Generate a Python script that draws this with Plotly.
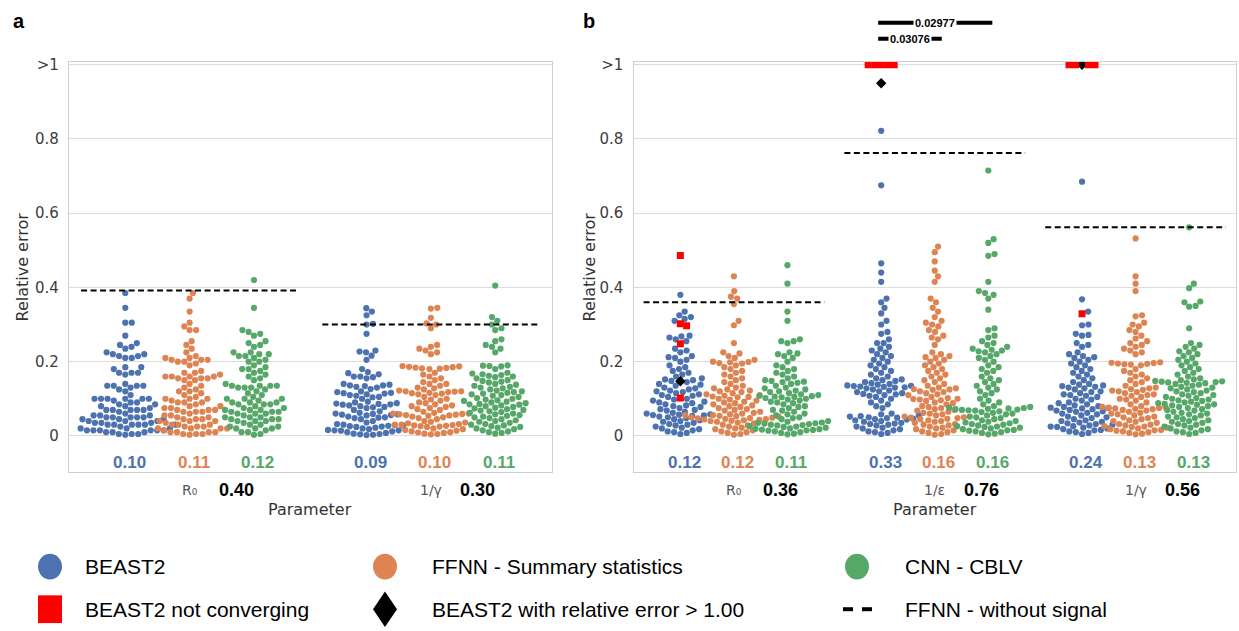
import numpy as np
import plotly.graph_objects as go

W, H = 1239, 631
BLUE, ORANGE, GREEN = '#4C72B0', '#DD8452', '#55A868'
HUE_COLORS = [BLUE, ORANGE, GREEN]
methods = ['BEAST2', 'FFNN - Summary statistics', 'CNN - CBLV']

# ---------------- panel a data ----------------
a_params = ['R₀', '1/γ']
a_r0_beast = [0.385, 0.345, 0.305, 0.305, 0.27, 0.25, 0.245, 0.24, 0.235,
              0.225, 0.22, 0.22, 0.215, 0.215, 0.21, 0.21,
              0.185, 0.185, 0.18, 0.17, 0.17, 0.17, 0.165,
              0.14, 0.135, 0.135, 0.135, 0.135, 0.13, 0.125, 0.12,
              0.11, 0.10, 0.10, 0.10, 0.10, 0.10, 0.10, 0.095, 0.09, 0.09,
              0.085, 0.085, 0.08, 0.08, 0.075, 0.07, 0.07, 0.07, 0.07, 0.07, 0.065,
              0.06, 0.055, 0.055, 0.055, 0.05, 0.05, 0.05, 0.05, 0.05, 0.045, 0.045, 0.045,
              0.04, 0.04, 0.04, 0.035, 0.035, 0.035, 0.03, 0.03, 0.03, 0.03, 0.03, 0.03, 0.025,
              0.02, 0.02, 0.02, 0.015, 0.015, 0.015, 0.015, 0.015, 0.015, 0.01, 0.01, 0.01,
              0.005, 0.005, 0.005, 0.003]
a_r0_ffnn = [0.385, 0.37, 0.335, 0.305, 0.295, 0.285, 0.285, 0.255, 0.245, 0.235, 0.225, 0.215,
             0.21, 0.21, 0.205, 0.205, 0.205, 0.2, 0.2, 0.195, 0.19,
             0.175, 0.17, 0.17, 0.165,
             0.16, 0.16, 0.16, 0.16, 0.155, 0.155, 0.155, 0.15, 0.15,
             0.14, 0.135, 0.13, 0.125, 0.12, 0.12, 0.115,
             0.11, 0.105, 0.10, 0.10, 0.10, 0.095, 0.09, 0.09, 0.09, 0.085,
             0.08, 0.08, 0.075, 0.075, 0.07, 0.07, 0.07, 0.065, 0.065, 0.065, 0.06,
             0.055, 0.055, 0.05, 0.05, 0.045, 0.045, 0.045, 0.04, 0.04, 0.04,
             0.035, 0.03, 0.03, 0.03, 0.025, 0.025, 0.025, 0.02, 0.02, 0.02, 0.02,
             0.015, 0.01, 0.01, 0.01, 0.01, 0.005, 0.005, 0.005, 0.003]
a_r0_cnn = [0.42, 0.345, 0.285, 0.28, 0.275, 0.27, 0.255, 0.25, 0.245, 0.24,
            0.225, 0.225, 0.22, 0.22, 0.215, 0.215, 0.21, 0.205, 0.2, 0.2,
            0.19, 0.185, 0.18, 0.18, 0.175, 0.17, 0.165, 0.16,
            0.155, 0.15, 0.14, 0.135, 0.135, 0.135, 0.135, 0.13, 0.13, 0.13, 0.125, 0.12, 0.115,
            0.11, 0.105, 0.1, 0.1, 0.1, 0.095, 0.09, 0.09, 0.09, 0.085, 0.085, 0.085,
            0.08, 0.075, 0.075, 0.07, 0.07, 0.07, 0.065, 0.065, 0.065, 0.06, 0.06, 0.06,
            0.055, 0.05, 0.05, 0.05, 0.045, 0.045, 0.045, 0.04, 0.04, 0.04,
            0.035, 0.03, 0.03, 0.025, 0.025, 0.02, 0.02, 0.02, 0.015, 0.01, 0.01, 0.005, 0.003]
a_gamma_beast = [0.344, 0.335, 0.325, 0.302, 0.30, 0.275, 0.23, 0.227, 0.225, 0.216, 0.205,
                 0.18, 0.172, 0.169, 0.166, 0.16, 0.16, 0.158, 0.155, 0.14, 0.138, 0.136,
                 0.136, 0.134, 0.132, 0.13, 0.126, 0.12, 0.118, 0.116, 0.115, 0.114, 0.112,
                 0.11, 0.108, 0.105, 0.104, 0.10, 0.092, 0.09, 0.088, 0.087, 0.086, 0.085,
                 0.084, 0.082, 0.08, 0.078, 0.077, 0.075, 0.07, 0.066, 0.062, 0.06, 0.059,
                 0.058, 0.057, 0.056, 0.055, 0.052, 0.05, 0.049, 0.048, 0.045, 0.04, 0.036,
                 0.032, 0.03, 0.029, 0.028, 0.027, 0.026, 0.025, 0.024, 0.022, 0.02, 0.018,
                 0.016, 0.015, 0.015, 0.014, 0.012, 0.01, 0.008, 0.006, 0.005, 0.004, 0.003, 0.002]
a_gamma_ffnn = [0.345, 0.343, 0.318, 0.303, 0.30, 0.29, 0.245, 0.24, 0.235, 0.23, 0.225, 0.22,
                0.188, 0.187, 0.186, 0.185, 0.184, 0.183, 0.182, 0.181, 0.18, 0.17, 0.165,
                0.16, 0.155, 0.15, 0.145, 0.14, 0.14, 0.135, 0.13, 0.128, 0.125, 0.122, 0.12,
                0.12, 0.119, 0.118, 0.116, 0.115, 0.114, 0.112, 0.11, 0.105, 0.10, 0.098,
                0.095, 0.09, 0.088, 0.085, 0.082, 0.08, 0.078, 0.075, 0.072, 0.07, 0.065,
                0.062, 0.06, 0.06, 0.059, 0.058, 0.057, 0.056, 0.055, 0.054, 0.052, 0.05,
                0.048, 0.045, 0.04, 0.038, 0.036, 0.034, 0.032, 0.03, 0.03, 0.029, 0.028,
                0.027, 0.026, 0.025, 0.024, 0.02, 0.018, 0.016, 0.014, 0.012, 0.01, 0.009,
                0.008, 0.006, 0.005, 0.004]
a_gamma_cnn = [0.405, 0.32, 0.31, 0.30, 0.29, 0.285, 0.26, 0.255, 0.245, 0.24, 0.235, 0.225,
               0.19, 0.189, 0.188, 0.187, 0.18, 0.17, 0.168, 0.166, 0.164, 0.162, 0.16, 0.158,
               0.155, 0.15, 0.148, 0.146, 0.144, 0.14, 0.138, 0.135, 0.132, 0.13, 0.128, 0.125,
               0.122, 0.12, 0.118, 0.116, 0.114, 0.112, 0.11, 0.108, 0.105, 0.102, 0.10, 0.098,
               0.096, 0.094, 0.092, 0.09, 0.088, 0.086, 0.085, 0.084, 0.082, 0.08, 0.078,
               0.076, 0.074, 0.072, 0.07, 0.068, 0.066, 0.064, 0.062, 0.06, 0.058, 0.056,
               0.054, 0.052, 0.05, 0.048, 0.045, 0.042, 0.04, 0.038, 0.035, 0.032, 0.03,
               0.028, 0.026, 0.024, 0.022, 0.02, 0.018, 0.015, 0.012, 0.01, 0.008, 0.006]
a_means = [['0.10', '0.11', '0.12'], ['0.09', '0.10', '0.11']]
a_nosignal = [0.392, 0.300]
a_nosignal_text = ['0.40', '0.30']

# ---------------- panel b data ----------------
b_params = ['R₀', '1/ε', '1/γ']
b_r0_beast = [0.38, 0.335, 0.325, 0.32, 0.315, 0.31, 0.27, 0.268, 0.265, 0.26, 0.255, 0.235,
              0.23, 0.225, 0.215, 0.212, 0.21, 0.205, 0.2, 0.19, 0.185, 0.18, 0.175, 0.17,
              0.165, 0.16, 0.155, 0.152, 0.15, 0.148, 0.145, 0.14, 0.138, 0.135, 0.13, 0.128,
              0.125, 0.122, 0.12, 0.118, 0.115, 0.112, 0.11, 0.108, 0.105, 0.1, 0.098, 0.095,
              0.092, 0.09, 0.088, 0.085, 0.082, 0.08, 0.078, 0.075, 0.072, 0.07, 0.068, 0.065,
              0.062, 0.06, 0.058, 0.057, 0.056, 0.055, 0.054, 0.052, 0.05, 0.048, 0.045,
              0.042, 0.04, 0.038, 0.035, 0.032, 0.03, 0.028, 0.025, 0.022, 0.02, 0.018,
              0.015, 0.012, 0.01, 0.008, 0.005]
b_r0_red = [0.486, 0.302, 0.297, 0.248, 0.102]
b_r0_black = [0.147]
b_r0_ffnn = [0.43, 0.39, 0.375, 0.37, 0.355, 0.31, 0.298, 0.25, 0.225, 0.222, 0.215, 0.21,
             0.205, 0.2, 0.199, 0.198, 0.196, 0.195, 0.19, 0.185, 0.18, 0.175, 0.17, 0.165,
             0.16, 0.155, 0.15, 0.145, 0.14, 0.135, 0.13, 0.128, 0.125, 0.122, 0.12, 0.118,
             0.115, 0.112, 0.11, 0.108, 0.106, 0.105, 0.104, 0.1, 0.098, 0.095, 0.092, 0.09,
             0.088, 0.085, 0.082, 0.08, 0.078, 0.075, 0.072, 0.07, 0.068, 0.065, 0.062, 0.06,
             0.058, 0.056, 0.055, 0.054, 0.053, 0.052, 0.05, 0.049, 0.048, 0.047, 0.046,
             0.045, 0.044, 0.043, 0.042, 0.041, 0.04, 0.038, 0.036, 0.034, 0.03, 0.028,
             0.025, 0.022, 0.02, 0.018, 0.015, 0.012, 0.01, 0.008, 0.005, 0.003]
b_r0_cnn = [0.46, 0.41, 0.335, 0.31, 0.26, 0.255, 0.255, 0.25, 0.225, 0.222, 0.22, 0.215,
            0.21, 0.2, 0.19, 0.185, 0.18, 0.175, 0.17, 0.165, 0.16, 0.155, 0.15, 0.148,
            0.146, 0.145, 0.143, 0.14, 0.135, 0.13, 0.128, 0.125, 0.122, 0.12, 0.118, 0.115,
            0.112, 0.11, 0.108, 0.107, 0.106, 0.105, 0.104, 0.102, 0.1, 0.098, 0.095, 0.092,
            0.09, 0.088, 0.085, 0.08, 0.078, 0.075, 0.07, 0.068, 0.065, 0.06, 0.058, 0.055,
            0.05, 0.048, 0.045, 0.04, 0.038, 0.036, 0.035, 0.034, 0.033, 0.032, 0.03, 0.029,
            0.028, 0.026, 0.025, 0.024, 0.022, 0.02, 0.019, 0.018, 0.017, 0.016, 0.015,
            0.014, 0.012, 0.01, 0.008, 0.006, 0.004]
b_eps_beast = [0.822, 0.675, 0.465, 0.44, 0.415, 0.37, 0.36, 0.345, 0.33, 0.31, 0.3, 0.28,
               0.275, 0.26, 0.25, 0.25, 0.24, 0.235, 0.23, 0.225, 0.22, 0.215, 0.21, 0.205,
               0.2, 0.195, 0.19, 0.185, 0.18, 0.175, 0.17, 0.165, 0.16, 0.155, 0.152, 0.15,
               0.148, 0.145, 0.142, 0.14, 0.138, 0.136, 0.135, 0.134, 0.133, 0.132, 0.131,
               0.13, 0.128, 0.125, 0.122, 0.12, 0.118, 0.115, 0.113, 0.112, 0.11, 0.108,
               0.105, 0.1, 0.095, 0.09, 0.085, 0.08, 0.075, 0.06, 0.058, 0.055, 0.053,
               0.052, 0.05, 0.049, 0.048, 0.046, 0.045, 0.044, 0.042, 0.04, 0.038, 0.035,
               0.033, 0.032, 0.03, 0.028, 0.025, 0.022, 0.02, 0.018, 0.015, 0.012, 0.01,
               0.008, 0.005]
b_eps_red = [1.0, 1.0, 1.0, 1.0, 1.0]
b_eps_black = [0.95]
b_eps_ffnn = [0.51, 0.495, 0.47, 0.445, 0.43, 0.415, 0.37, 0.36, 0.345, 0.335, 0.32, 0.31,
              0.305, 0.3, 0.295, 0.285, 0.28, 0.27, 0.265, 0.26, 0.245, 0.225, 0.22, 0.215,
              0.212, 0.21, 0.205, 0.2, 0.195, 0.19, 0.185, 0.18, 0.175, 0.17, 0.165, 0.16,
              0.155, 0.15, 0.145, 0.14, 0.135, 0.13, 0.128, 0.126, 0.125, 0.124, 0.12,
              0.118, 0.115, 0.112, 0.11, 0.105, 0.102, 0.1, 0.099, 0.098, 0.096, 0.094,
              0.09, 0.088, 0.085, 0.08, 0.078, 0.075, 0.072, 0.07, 0.068, 0.065, 0.062,
              0.06, 0.058, 0.055, 0.052, 0.05, 0.049, 0.048, 0.046, 0.045, 0.042, 0.04,
              0.038, 0.035, 0.032, 0.03, 0.028, 0.025, 0.022, 0.02, 0.018, 0.015, 0.012,
              0.01, 0.008, 0.005, 0.003]
b_eps_cnn = [0.715, 0.53, 0.52, 0.49, 0.485, 0.415, 0.39, 0.385, 0.38, 0.37, 0.34, 0.29,
             0.285, 0.27, 0.265, 0.255, 0.25, 0.245, 0.24, 0.235, 0.232, 0.23, 0.228, 0.225,
             0.22, 0.215, 0.21, 0.205, 0.2, 0.19, 0.185, 0.18, 0.175, 0.17, 0.16, 0.155,
             0.15, 0.145, 0.14, 0.135, 0.13, 0.125, 0.12, 0.115, 0.11, 0.1, 0.095, 0.09,
             0.085, 0.08, 0.078, 0.076, 0.075, 0.074, 0.073, 0.072, 0.071, 0.07, 0.069,
             0.068, 0.066, 0.064, 0.062, 0.06, 0.058, 0.055, 0.052, 0.05, 0.048, 0.045,
             0.042, 0.04, 0.038, 0.036, 0.034, 0.032, 0.03, 0.028, 0.026, 0.025, 0.024,
             0.022, 0.02, 0.018, 0.016, 0.015, 0.014, 0.012, 0.01, 0.008, 0.006, 0.004]
b_gamma_beast = [0.685, 0.368, 0.335, 0.30, 0.298, 0.275, 0.272, 0.27, 0.25, 0.245, 0.24,
                 0.225, 0.22, 0.215, 0.212, 0.21, 0.205, 0.2, 0.195, 0.19, 0.185, 0.18,
                 0.175, 0.17, 0.165, 0.16, 0.155, 0.15, 0.145, 0.14, 0.138, 0.136, 0.134,
                 0.132, 0.13, 0.128, 0.125, 0.12, 0.118, 0.115, 0.112, 0.11, 0.108, 0.105,
                 0.1, 0.098, 0.095, 0.09, 0.088, 0.085, 0.082, 0.08, 0.078, 0.076, 0.075,
                 0.074, 0.072, 0.07, 0.068, 0.066, 0.065, 0.062, 0.06, 0.058, 0.055, 0.052,
                 0.05, 0.048, 0.045, 0.042, 0.04, 0.038, 0.036, 0.034, 0.032, 0.03, 0.028,
                 0.026, 0.025, 0.024, 0.022, 0.02, 0.018, 0.016, 0.015, 0.012, 0.01, 0.008, 0.005]
b_gamma_red = [0.329, 1.0, 1.0, 1.0, 1.0]
b_gamma_black = [1.0]
b_gamma_ffnn = [0.532, 0.43, 0.41, 0.39, 0.325, 0.322, 0.305, 0.3, 0.295, 0.285, 0.28, 0.27,
                0.262, 0.255, 0.25, 0.245, 0.24, 0.235, 0.23, 0.225, 0.22, 0.198, 0.197,
                0.196, 0.195, 0.194, 0.193, 0.192, 0.19, 0.18, 0.175, 0.17, 0.165, 0.16,
                0.155, 0.15, 0.145, 0.14, 0.135, 0.13, 0.128, 0.126, 0.124, 0.122, 0.12,
                0.118, 0.115, 0.112, 0.11, 0.108, 0.105, 0.1, 0.098, 0.095, 0.09, 0.085,
                0.08, 0.078, 0.077, 0.076, 0.075, 0.074, 0.073, 0.072, 0.07, 0.068, 0.065,
                0.062, 0.06, 0.058, 0.055, 0.052, 0.05, 0.048, 0.045, 0.042, 0.04, 0.038,
                0.035, 0.032, 0.03, 0.028, 0.026, 0.025, 0.024, 0.022, 0.02, 0.018, 0.016,
                0.015, 0.014, 0.012, 0.01, 0.008, 0.006, 0.004]
b_gamma_cnn = [0.562, 0.41, 0.398, 0.362, 0.36, 0.35, 0.348, 0.29, 0.25, 0.245, 0.24, 0.235,
               0.228, 0.225, 0.22, 0.215, 0.21, 0.205, 0.2, 0.195, 0.19, 0.185, 0.18, 0.175,
               0.17, 0.165, 0.16, 0.155, 0.152, 0.15, 0.148, 0.147, 0.146, 0.145, 0.144,
               0.143, 0.142, 0.14, 0.138, 0.135, 0.132, 0.13, 0.128, 0.125, 0.122, 0.12,
               0.118, 0.115, 0.112, 0.11, 0.108, 0.105, 0.102, 0.1, 0.098, 0.096, 0.094,
               0.092, 0.09, 0.088, 0.086, 0.085, 0.084, 0.082, 0.08, 0.078, 0.075, 0.072,
               0.07, 0.068, 0.065, 0.062, 0.06, 0.058, 0.055, 0.052, 0.05, 0.048, 0.045,
               0.042, 0.04, 0.038, 0.035, 0.032, 0.03, 0.028, 0.025, 0.022, 0.02, 0.018,
               0.015, 0.012, 0.01, 0.008, 0.005]
b_means = [['0.12', '0.12', '0.11'], ['0.33', '0.16', '0.16'], ['0.24', '0.13', '0.13']]
b_nosignal = [0.36, 0.762, 0.562]
b_nosignal_text = ['0.36', '0.76', '0.56']
b_pvalues = ['0.02977', '0.03076']

# ---------------- layout geometry ----------------
Y_RANGE = [-0.098, 1.0075]
Y_DOM = [1 - 470.7 / H, 1 - 56.5 / H]
XA_DOM = [69 / W, 551.5 / W]
XB_DOM = [633.5 / W, 1236 / W]
XA_RANGE = [-0.5, 1.5]
XB_RANGE = [-0.5, 2.5]
HUE_OFF = [-0.8 / 3, 0.0, 0.8 / 3]
PX_Y = (Y_DOM[1] - Y_DOM[0]) * H / (Y_RANGE[1] - Y_RANGE[0])
PX_XA = (XA_DOM[1] - XA_DOM[0]) * W / (XA_RANGE[1] - XA_RANGE[0])
PX_XB = (XB_DOM[1] - XB_DOM[0]) * W / (XB_RANGE[1] - XB_RANGE[0])
D = 6.5  # swarm spacing in px


def swarm(vals, n_priority=0):
    """Beeswarm offsets (px). The last n_priority values are placed first (centred)."""
    ypx = np.asarray(vals, float) * PX_Y
    n = len(ypx)
    pri = list(range(n - n_priority, n))
    rest = [i for i in np.argsort(ypx, kind='stable') if i < n - n_priority]
    xs = np.zeros(n)
    placed = []
    for i in pri + rest:
        y = ypx[i]
        near = [(px, py) for px, py in placed if abs(py - y) < D]
        cands = [0.0]
        for px, py in near:
            dx = np.sqrt(D * D - (py - y) ** 2)
            cands += [px + dx, px - dx]
        cands.sort(key=abs)
        for c in cands:
            if all((c - px) ** 2 + (y - py) ** 2 >= D * D - 1e-6 for px, py in near):
                xs[i] = c
                break
        placed.append((xs[i], y))
    return xs


fig = go.Figure()

panels = [
    dict(xa='x', ya='y', pxu=PX_XA, params=a_params, nosig=a_nosignal, nosig_t=a_nosignal_text,
         means=a_means,
         series=[[a_r0_beast, a_r0_ffnn, a_r0_cnn], [a_gamma_beast, a_gamma_ffnn, a_gamma_cnn]],
         red=[[], []], black=[[], []]),
    dict(xa='x2', ya='y2', pxu=PX_XB, params=b_params, nosig=b_nosignal, nosig_t=b_nosignal_text,
         means=b_means,
         series=[[b_r0_beast, b_r0_ffnn, b_r0_cnn], [b_eps_beast, b_eps_ffnn, b_eps_cnn],
                 [b_gamma_beast, b_gamma_ffnn, b_gamma_cnn]],
         red=[b_r0_red, b_eps_red, b_gamma_red], black=[b_r0_black, b_eps_black, b_gamma_black]),
]

annotations = []
shapes = []

for P in panels:
    for g, trio in enumerate(P['series']):
        for h, vals in enumerate(trio):
            extra_k = list(P['black'][g]) if h == 0 else []
            extra_r = list(P['red'][g]) if h == 0 else []
            allv = list(vals) + extra_k + extra_r
            xo = swarm(allv, len(extra_k) + len(extra_r))
            xs = g + HUE_OFF[h] + xo / P['pxu']
            n0, n1 = len(vals), len(vals) + len(extra_k)
            fig.add_trace(go.Scatter(x=xs[:n0], y=vals, mode='markers', xaxis=P['xa'], yaxis=P['ya'],
                                     marker=dict(size=6.2, color=HUE_COLORS[h], line=dict(width=0)),
                                     showlegend=False, hoverinfo='y'))
            if extra_k:
                fig.add_trace(go.Scatter(x=xs[n0:n1], y=extra_k, mode='markers', xaxis=P['xa'], yaxis=P['ya'],
                                         marker=dict(size=8, color='black', symbol='diamond'),
                                         showlegend=False, hoverinfo='y'))
            if extra_r:
                fig.add_trace(go.Scatter(x=xs[n1:], y=extra_r, mode='markers', xaxis=P['xa'], yaxis=P['ya'],
                                         marker=dict(size=7, color='#FF0000', symbol='square'),
                                         showlegend=False, hoverinfo='y'))
            annotations.append(dict(x=g + HUE_OFF[h], y=-0.072, xref=P['xa'], yref=P['ya'],
                                    text='<b>%s</b>' % P['means'][g][h], showarrow=False, xshift=4,
                                    yanchor='middle',
                                    font=dict(family='Liberation Sans', size=17, color=HUE_COLORS[h])))
        # no-signal dashed line
        fig.add_trace(go.Scatter(x=[g - 0.45, g + 0.45], y=[P['nosig'][g]] * 2, mode='lines',
                                 xaxis=P['xa'], yaxis=P['ya'], showlegend=False, hoverinfo='skip',
                                 line=dict(color='black', width=2, dash='6px,3.5px')))
        # category label and bold no-signal value
        annotations.append(dict(x=g, y=1 - 489 / H, xref=P['xa'], yref='paper', text=P['params'][g],
                                showarrow=False, yanchor='middle',
                                font=dict(family='DejaVu Sans', size=14, color='#555')))
        annotations.append(dict(x=g, y=1 - 489 / H, xref=P['xa'], yref='paper', xshift=47,
                                text='<b>%s</b>' % P['nosig_t'][g], showarrow=False, yanchor='middle',
                                font=dict(family='Liberation Sans', size=18, color='black')))


def px(x):
    return x / W


def py(y):
    return 1 - y / H


def text(x, y, t, size, color='black', family='Liberation Sans', xanchor='left', angle=0):
    annotations.append(dict(x=px(x), y=py(y), xref='paper', yref='paper', text=t, showarrow=False,
                            xanchor=xanchor, yanchor='middle', textangle=angle,
                            font=dict(family=family, size=size, color=color)))


# axis titles and panel letters
for cx, yx in [(310, 22), (935, 589)]:
    text(cx, 508, 'Parameter', 16, '#333', 'DejaVu Sans', 'center')
    text(yx, 264, 'Relative error', 16, '#333', 'DejaVu Sans', 'center', -90)
text(11, 15, '<b>a</b>', 20)
text(581, 15, '<b>b</b>', 20)

# significance bars (panel b, 1/ε group)
sig = [(1 + HUE_OFF[0] - 0.015, 1 + HUE_OFF[2] + 0.02, 17, b_pvalues[0]),
       (1 + HUE_OFF[0] - 0.015, 1 + 0.035, 33, b_pvalues[1])]
for x0, x1, yy, t in sig:
    shapes.append(dict(type='line', xref='x2', yref='paper', x0=x0, x1=x1, y0=py(yy), y1=py(yy),
                       line=dict(color='black', width=4)))
    annotations.append(dict(x=(x0 + x1) / 2, y=py(yy), xref='x2', yref='paper', text='<b>%s</b>' % t,
                            showarrow=False, bgcolor='white', borderpad=1, yanchor='middle',
                            font=dict(family='Liberation Sans', size=11, color='black')))

# legend
def circle(cx, cy, color, rx=12, ry=13):
    shapes.append(dict(type='circle', xref='paper', yref='paper', x0=px(cx - rx), x1=px(cx + rx),
                       y0=py(cy + ry), y1=py(cy - ry), fillcolor=color, line=dict(width=0)))

circle(50, 566, BLUE)
circle(385, 566, ORANGE)
circle(857, 566, GREEN)
shapes.append(dict(type='rect', xref='paper', yref='paper', x0=px(38), x1=px(62), y0=py(623), y1=py(595),
                   fillcolor='#FF0000', line=dict(width=0)))
shapes.append(dict(type='path', xref='paper', yref='paper',
                   path='M %f,%f L %f,%f L %f,%f L %f,%f Z' % (px(385), py(591), px(397), py(609),
                                                               px(385), py(627), px(373), py(609)),
                   fillcolor='black', line=dict(width=0)))
for a0, a1 in [(843, 853), (862, 872)]:
    shapes.append(dict(type='line', xref='paper', yref='paper', x0=px(a0), x1=px(a1), y0=py(609), y1=py(609),
                       line=dict(color='black', width=4)))
text(83, 566, methods[0], 21)
text(430, 566, methods[1], 21)
text(903, 566, methods[2], 21)
text(83, 609, 'BEAST2 not converging', 21)
text(430, 609, 'BEAST2 with relative error &gt; 1.00', 21)
text(903, 609, 'FFNN - without signal', 21)

yaxis_common = dict(range=Y_RANGE, domain=Y_DOM, tickvals=[0, 0.2, 0.4, 0.6, 0.8, 1.0],
                    ticktext=['0', '0.2', '0.4', '0.6', '0.8', '&gt;1'], showgrid=True,
                    gridcolor='#dcdcdc', gridwidth=1, zeroline=False, showline=True, mirror=True,
                    linecolor='#cfcfcf', linewidth=1.2, ticks='', ticklabelstandoff=6,
                    tickfont=dict(family='DejaVu Sans', size=15, color='#3c3c3c'))
xaxis_common = dict(showgrid=False, zeroline=False, showline=True, mirror=True, linecolor='#cfcfcf',
                    linewidth=1.2, showticklabels=False, ticks='')

fig.update_layout(
    width=W, height=H, margin=dict(l=0, r=0, t=0, b=0),
    paper_bgcolor='white', plot_bgcolor='rgba(0,0,0,0)',
    xaxis=dict(domain=XA_DOM, range=XA_RANGE, **xaxis_common),
    xaxis2=dict(domain=XB_DOM, range=XB_RANGE, **xaxis_common),
    yaxis=dict(anchor='x', **yaxis_common),
    yaxis2=dict(anchor='x2', **yaxis_common),
    annotations=annotations, shapes=shapes, showlegend=False,
)

fig.write_html('out.html')
